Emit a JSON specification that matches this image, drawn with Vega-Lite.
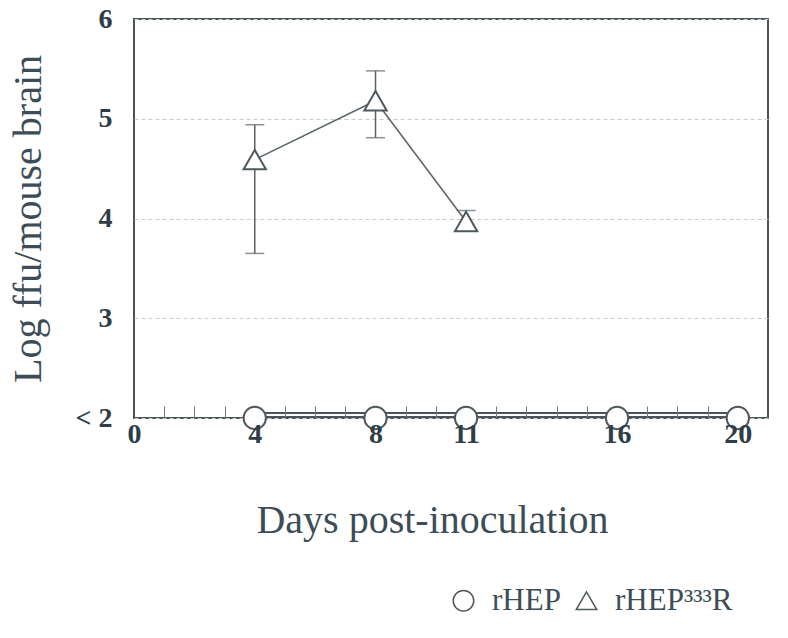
{
  "$schema": "https://vega.github.io/schema/vega-lite/v6.json",
  "width": 634,
  "height": 399,
  "autosize": {"type": "none"},
  "padding": {"left": 134, "top": 19, "right": 20, "bottom": 220},
  "background": "white",
  "config": {
    "view": {"stroke": "#4a5358", "strokeWidth": 2},
    "font": "Liberation Serif"
  },
  "datasets": {
    "means": [
      {"day": 4, "strain": "rHEP", "titer": 2},
      {"day": 8, "strain": "rHEP", "titer": 2},
      {"day": 11, "strain": "rHEP", "titer": 2},
      {"day": 16, "strain": "rHEP", "titer": 2},
      {"day": 20, "strain": "rHEP", "titer": 2},
      {"day": 4, "strain": "rHEP³³³R", "titer": 4.59, "lo": 3.65, "hi": 4.94},
      {"day": 8, "strain": "rHEP³³³R", "titer": 5.18, "lo": 4.81, "hi": 5.48},
      {"day": 11, "strain": "rHEP³³³R", "titer": 3.97, "lo": 3.89, "hi": 4.08}
    ]
  },
  "data": {"name": "means"},
  "encoding": {
    "x": {
      "field": "day",
      "type": "quantitative",
      "scale": {"domain": [0, 21], "nice": false, "zero": false},
      "axis": {
        "title": "Days post-inoculation",
        "values": [0,1,2,3,4,5,6,7,8,9,10,11,12,13,14,15,16,17,18,19,20],
        "labelExpr": "indexof([0,4,8,11,16,20], datum.value) >= 0 ? datum.label : ''",
        "grid": false,
        "domain": false,
        "zindex": 1,
        "tickSize": -12,
        "tickColor": "#6f787c",
        "tickWidth": 1,
        "tickOpacity": {"condition": {"test": "indexof([0,4,8,11,16,20], datum.value) >= 0", "value": 0}, "value": 1},
        "labelFont": "Liberation Serif",
        "labelFontWeight": "bold",
        "labelFontSize": 28,
        "labelColor": "#2e3d47",
        "labelPadding": 14,
        "labelFlush": false,
        "labelOverlap": false,
        "titleFont": "Liberation Serif",
        "titleFontWeight": "normal",
        "titleFontSize": 40,
        "titleColor": "#3d4d57",
        "titlePadding": 52,
        "titleX": 298
      }
    },
    "y": {
      "field": "titer",
      "type": "quantitative",
      "scale": {"domain": [2, 6], "nice": false, "zero": false},
      "axis": {
        "title": "Log ffu/mouse brain",
        "values": [2, 3, 4, 5, 6],
        "labelExpr": "datum.value == 2 ? '< 2' : datum.label",
        "grid": true,
        "gridColor": "#c9cccc",
        "gridDash": [4, 3],
        "gridWidth": 1,
        "domain": false,
        "ticks": false,
        "labelFont": "Liberation Serif",
        "labelFontWeight": "bold",
        "labelFontSize": 28,
        "labelColor": "#2e3d47",
        "labelPadding": 22,
        "titleFont": "Liberation Serif",
        "titleFontWeight": "normal",
        "titleFontSize": 40,
        "titleColor": "#3d4d57",
        "titlePadding": 27
      }
    }
  },
  "layer": [
    {
      "transform": [{"filter": "datum.strain == 'rHEP'"}],
      "mark": {"type": "line", "color": "#4a5358", "strokeWidth": 6, "yOffset": -3},
      "encoding": {}
    },
    {
      "transform": [{"filter": "datum.strain == 'rHEP'"}],
      "mark": {"type": "line", "color": "white", "strokeWidth": 2, "yOffset": -3},
      "encoding": {}
    },
    {
      "transform": [{"filter": "datum.strain != 'rHEP'"}],
      "mark": {"type": "line", "color": "#5a6367", "strokeWidth": 1.5},
      "encoding": {}
    },
    {
      "transform": [{"filter": "datum.strain != 'rHEP'"}],
      "mark": {"type": "rule", "color": "#5a6367", "strokeWidth": 1.5},
      "encoding": {"y": {"field": "lo", "type": "quantitative"}, "y2": {"field": "hi"}}
    },
    {
      "transform": [{"filter": "datum.strain != 'rHEP'"}],
      "mark": {"type": "tick", "orient": "horizontal", "color": "#5a6367", "size": 19, "thickness": 1.5},
      "encoding": {"y": {"field": "lo", "type": "quantitative"}}
    },
    {
      "transform": [{"filter": "datum.strain != 'rHEP'"}],
      "mark": {"type": "tick", "orient": "horizontal", "color": "#5a6367", "size": 19, "thickness": 1.5},
      "encoding": {"y": {"field": "hi", "type": "quantitative"}}
    },
    {
      "mark": {"type": "point", "filled": true, "fill": "white", "stroke": "#4f585d", "strokeWidth": 2, "size": 500, "opacity": 1},
      "encoding": {
        "shape": {
          "field": "strain",
          "type": "nominal",
          "scale": {"domain": ["rHEP", "rHEP³³³R"], "range": ["circle", "triangle-up"]},
          "legend": {
            "title": null,
            "orient": "none",
            "direction": "horizontal",
            "legendX": 314,
            "legendY": 566,
            "symbolSize": 420,
            "labelFont": "Liberation Serif",
            "labelFontSize": 31,
            "labelColor": "#3d4d57",
            "labelOffset": 13,
            "columnPadding": 10,
            "symbolOffset": 0,
            "encode": {
              "symbols": {
                "update": {
                  "fill": {"value": "white"},
                  "stroke": {"value": "#5a6367"},
                  "strokeWidth": {"value": 1.5},
                  "opacity": {"value": 1}
                }
              }
            }
          }
        }
      }
    }
  ]
}
